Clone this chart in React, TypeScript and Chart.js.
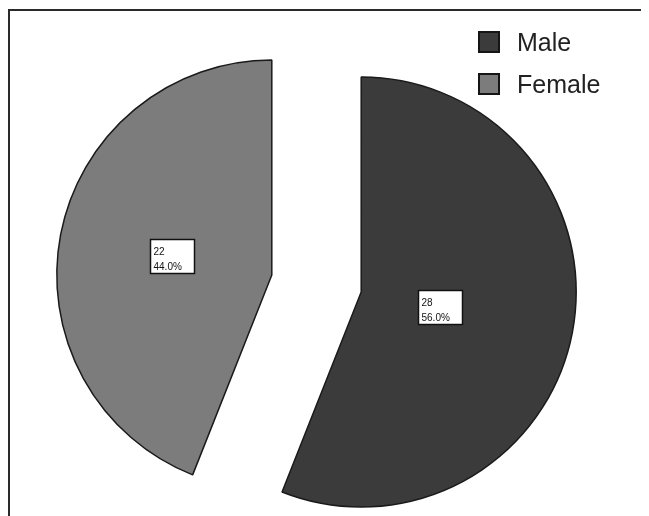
import React, { useEffect, useRef } from "react";
import { Chart, registerables } from "chart.js";

Chart.register(...registerables);

const categories = ["Male", "Female"];
const counts = [28, 22];
const sliceColors = ["#3b3b3b", "#7c7c7c"];

const EXPLODE = 45.5;
const RADIUS = 215;
const BOX_W = 44;
const BOX_H = 34;

const explodePlugin = {
  id: "explodeSlices",
  beforeDatasetsDraw(chart: any) {
    const area = chart.chartArea;
    const cx = (area.left + area.right) / 2;
    const cy = (area.top + area.bottom) / 2;
    chart.getDatasetMeta(0).data.forEach((el: any) => {
      const mid = (el.startAngle + el.endAngle) / 2;
      el.x = cx + Math.cos(mid) * EXPLODE;
      el.y = cy + Math.sin(mid) * EXPLODE;
    });
  },
};

const labelPlugin = {
  id: "sliceLabels",
  afterDatasetsDraw(chart: any) {
    const ctx = chart.ctx;
    const data = chart.data.datasets[0].data as number[];
    const total = data.reduce((a, b) => a + b, 0);
    chart.getDatasetMeta(0).data.forEach((el: any, i: number) => {
      const mid = (el.startAngle + el.endAngle) / 2;
      const half = (el.endAngle - el.startAngle) / 2;
      const d = (2 * el.outerRadius * Math.sin(half)) / (3 * half);
      const px = el.x + Math.cos(mid) * d;
      const py = el.y + Math.sin(mid) * d;
      const left = Math.round(px - BOX_W / 2) + 0.5;
      const top = Math.round(py - BOX_H / 2) + 0.5;
      ctx.save();
      ctx.fillStyle = "#ffffff";
      ctx.fillRect(left, top, BOX_W, BOX_H);
      ctx.strokeStyle = "#111111";
      ctx.lineWidth = 1.5;
      ctx.strokeRect(left, top, BOX_W, BOX_H);
      ctx.fillStyle = "#111111";
      ctx.font = "10px 'Liberation Sans', Arial, sans-serif";
      ctx.textAlign = "left";
      ctx.textBaseline = "alphabetic";
      ctx.fillText(String(data[i]), left + 3, top + 15);
      ctx.fillText(((data[i] / total) * 100).toFixed(1) + "%", left + 3, top + 30);
      ctx.restore();
    });
  },
};

export default function App() {
  const canvasRef = useRef<HTMLCanvasElement | null>(null);

  useEffect(() => {
    if (!canvasRef.current) return;
    const chart = new Chart(canvasRef.current, {
      type: "pie",
      data: {
        labels: categories,
        datasets: [
          {
            data: counts,
            backgroundColor: sliceColors,
            borderColor: "#1a1a1a",
            borderWidth: 1.5,
          },
        ],
      },
      options: {
        responsive: false,
        devicePixelRatio: 1,
        animation: false,
        events: [],
        radius: RADIUS,
        layout: { padding: { left: 0, right: 24, top: 43, bottom: 0 } },
        plugins: {
          legend: { display: false },
          tooltip: { enabled: false },
        },
      } as any,
      plugins: [explodePlugin, labelPlugin],
    });
    return () => chart.destroy();
  }, []);

  return (
    <div style={{ position: "relative", width: 641, height: 508, background: "#ffffff", overflow: "hidden" }}>
      <canvas ref={canvasRef} width={641} height={508} style={{ position: "absolute", left: 0, top: 0 }} />
      <div
        style={{
          position: "absolute",
          left: 0,
          top: 1,
          width: 641,
          height: 507,
          boxSizing: "border-box",
          borderTop: "2px solid #2a2a2a",
          borderLeft: "2px solid #2a2a2a",
          pointerEvents: "none",
        }}
      />
      {categories.map((c, i) => (
        <div
          key={c}
          style={{
            position: "absolute",
            left: 470,
            top: 23 + i * 42,
            height: 22,
            display: "flex",
            alignItems: "center",
            fontFamily: "'Liberation Sans', Arial, sans-serif",
            fontSize: 25,
            color: "#222222",
          }}
        >
          <span
            style={{
              display: "inline-block",
              width: 22,
              height: 22,
              boxSizing: "border-box",
              background: sliceColors[i],
              border: "2px solid #151515",
              marginRight: 17,
            }}
          />
          <span style={{ lineHeight: "22px" }}>{c}</span>
        </div>
      ))}
    </div>
  );
}
